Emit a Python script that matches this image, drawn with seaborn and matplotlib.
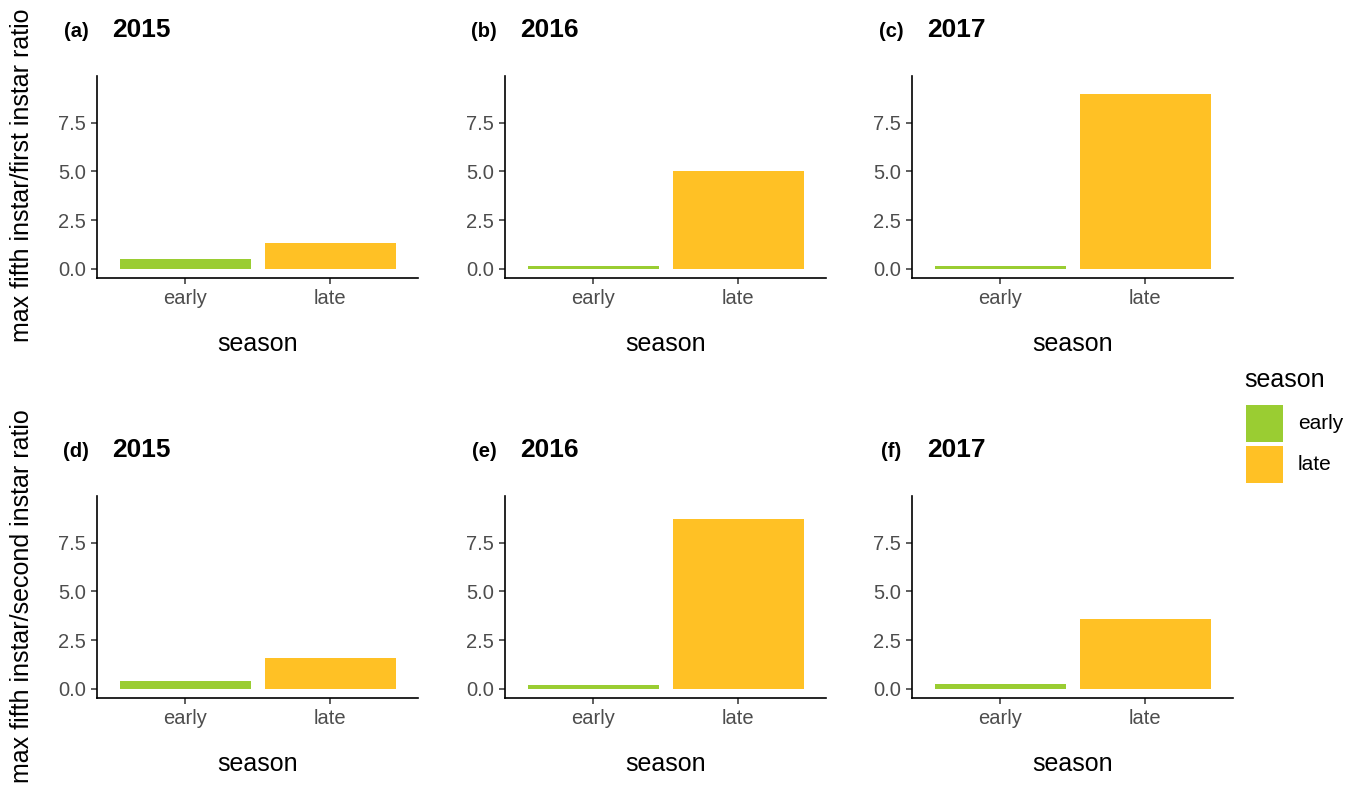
import numpy as np
import pandas as pd
import matplotlib
matplotlib.use("Agg")
import matplotlib.pyplot as plt
import seaborn as sns
from matplotlib.patches import Rectangle

sns.set_style("white")
plt.rcParams['font.family'] = ['Liberation Sans', 'DejaVu Sans']
plt.rcParams['text.color'] = 'black'
plt.rcParams['axes.labelcolor'] = 'black'

seasons = ["early", "late"]
years = ["2015", "2016", "2017"]
tags_top = ["(a)", "(b)", "(c)"]
tags_bottom = ["(d)", "(e)", "(f)"]
# max fifth instar / first instar ratio
first_early = [0.51, 0.15, 0.17]
first_late = [1.34, 5.00, 8.99]
# max fifth instar / second instar ratio
second_early = [0.40, 0.22, 0.27]
second_late = [1.58, 8.74, 3.56]
yticks = [0.0, 2.5, 5.0, 7.5]

colors = {"early": "#9ACD32", "late": "#FFC125"}

W, H = 1359, 792
fig = plt.figure(figsize=(W / 100, H / 100), dpi=100)

lefts = [97, 505, 912]
ax_w = 321
ax_h = 202
bottoms = [278, 698]

rows = [(first_early, first_late, tags_top), (second_early, second_late, tags_bottom)]

for r, (early, late, tags) in enumerate(rows):
    for c, yr in enumerate(years):
        df = pd.DataFrame({"season": seasons, "ratio": [early[c], late[c]]})
        ax = fig.add_axes([lefts[c] / W, 1 - bottoms[r] / H, ax_w / W, ax_h / H])
        sns.barplot(data=df, x="season", y="ratio", hue="season", palette=colors,
                    width=0.9, legend=False, ax=ax, saturation=1, linewidth=0)
        ax.set_xlim(-0.61, 1.605)
        ax.set_ylim(-0.47, 9.9)
        ax.set_yticks(yticks)
        ax.set_yticklabels([f"{t:.1f}" for t in yticks])
        ax.set_ylabel("")
        ax.set_xlabel("season", fontsize=18, labelpad=17)
        ax.tick_params(axis="both", which="major", labelsize=14.5, labelcolor="#4D4D4D",
                       length=4, width=1.1, color="#333333", left=True, bottom=True, pad=4)
        for s in ["top", "right"]:
            ax.spines[s].set_visible(False)
        for s in ["left", "bottom"]:
            ax.spines[s].set_color("black")
            ax.spines[s].set_linewidth(1.2)
        ty = 1 - (bottoms[r] - 248) / H
        fig.text((lefts[c] - 21) / W, ty - 1.5 / H, tags[c], fontsize=14.5, fontweight="bold",
                 ha="center", va="center")
        fig.text((lefts[c] + 15) / W, ty, yr, fontsize=19, fontweight="bold",
                 ha="left", va="center")

fig.text(22 / W, 1 - 175 / H, "max fifth instar/first instar ratio", rotation=90,
         fontsize=18, ha="center", va="center")
fig.text(22 / W, 1 - 596 / H, "max fifth instar/second instar ratio", rotation=90,
         fontsize=18, ha="center", va="center")

# legend drawn by hand (ggplot style: title gap larger than key gap)
fig.text(1244 / W, 1 - 380 / H, "season", fontsize=18, ha="left", va="center")
for i, s in enumerate(seasons):
    top = 405 + i * 41
    fig.add_artist(Rectangle((1246 / W, 1 - (top + 37) / H), 37 / W, 37 / H,
                             transform=fig.transFigure, facecolor=colors[s],
                             edgecolor="none"))
    fig.text(1298 / W, 1 - (top + 18.5) / H, s, fontsize=15, ha="left", va="center")

fig.savefig("out.png", dpi=100)
